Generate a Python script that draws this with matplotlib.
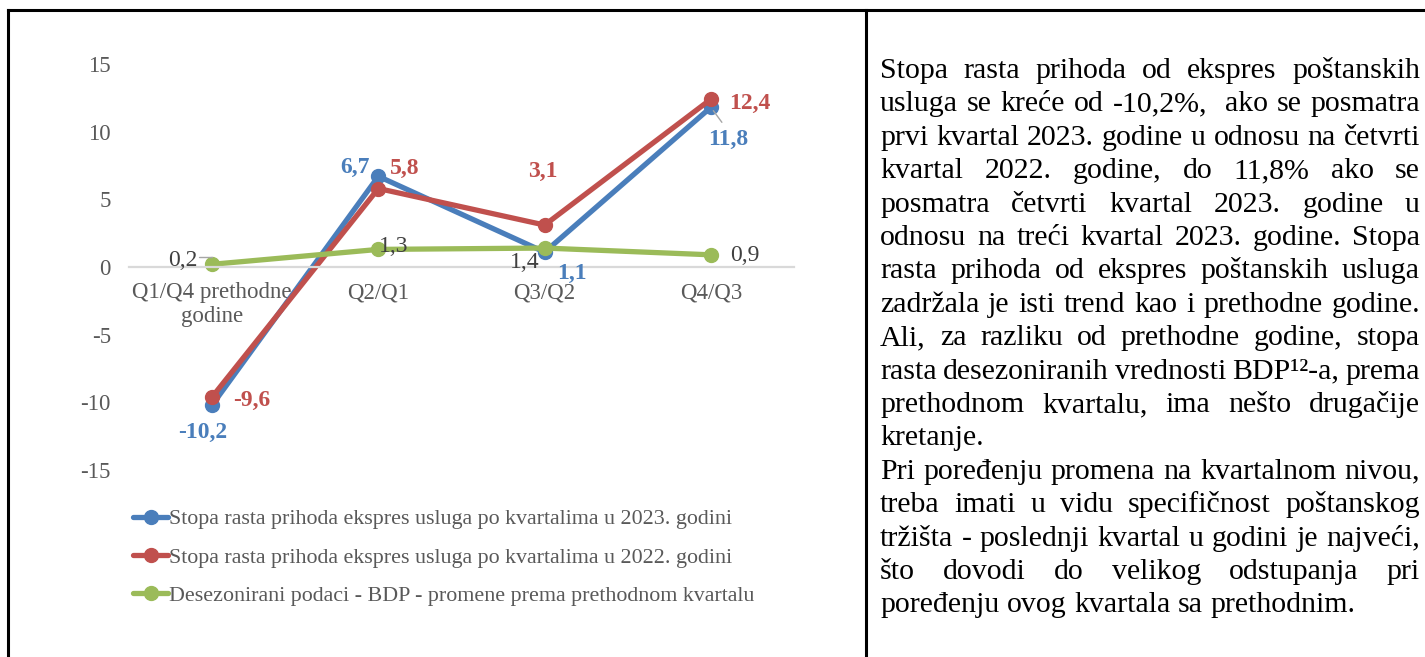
import matplotlib
matplotlib.use("Agg")
import matplotlib.pyplot as plt
from matplotlib.lines import Line2D

plt.rcParams['font.family'] = ['Liberation Serif', 'DejaVu Serif']

W, H = 1425, 657

# ==========================================
# podaci sa grafikona
# ==========================================
categories = ["Q1/Q4 prethodne\ngodine", "Q2/Q1", "Q3/Q2", "Q4/Q3"]
rast_2023 = [-10.2, 6.7, 1.1, 11.8]
rast_2022 = [-9.6, 5.8, 3.1, 12.4]
bdp = [0.2, 1.3, 1.4, 0.9]
y_ticks = [-15, -10, -5, 0, 5, 10, 15]

legend_labels = [
    "Stopa rasta prihoda ekspres usluga po kvartalima u 2023. godini",
    "Stopa rasta prihoda ekspres usluga po kvartalima u 2022. godini",
    "Desezonirani podaci - BDP - promene prema prethodnom kvartalu",
]

text_lines = [
    "Stopa rasta prihoda od ekspres poštanskih",
    "usluga se kreće od -10,2%,  ako se posmatra",
    "prvi kvartal 2023. godine u odnosu na četvrti",
    "kvartal 2022. godine, do 11,8% ako se",
    "posmatra četvrti kvartal 2023. godine u",
    "odnosu na treći kvartal 2023. godine. Stopa",
    "rasta prihoda od ekspres poštanskih usluga",
    "zadržala je isti trend kao i prethodne godine.",
    "Ali, za razliku od prethodne godine, stopa",
    "rasta desezoniranih vrednosti BDP¹²-a, prema",
    "prethodnom kvartalu, ima nešto drugačije",
    "kretanje.",
    "Pri poređenju promena na kvartalnom nivou,",
    "treba imati u vidu specifičnost poštanskog",
    "tržišta - poslednji kvartal u godini je najveći,",
    "što dovodi do velikog odstupanja pri",
    "poređenju ovog kvartala sa prethodnim.",
]
last_lines = {11, 16}  # kraj pasusa - bez poravnanja

BLUE = "#4A7EBB"
RED = "#C0504D"
GREEN = "#9BBB59"
GRAY = "#595959"

fig = plt.figure(figsize=(W / 100, H / 100), dpi=100)

# okvir tabele
for (x0, y0, x1, y1) in [(8, 10, W, 10), (8, 10, 8, H), (866, 10, 866, H)]:
    fig.add_artist(Line2D([x0 / W, x1 / W], [1 - y0 / H, 1 - y1 / H],
                          color="black", lw=2.2, transform=fig.transFigure))

ax = fig.add_axes([129 / W, 1 - 470 / H, (794 - 129) / W, (470 - 64) / H])
x = list(range(len(categories)))

ax.plot(x, rast_2023, color=BLUE, lw=3.8, marker="o", ms=10, label=legend_labels[0],
        solid_capstyle="round")
ax.plot(x, rast_2022, color=RED, lw=3.8, marker="o", ms=10, label=legend_labels[1],
        solid_capstyle="round")
ax.plot(x, bdp, color=GREEN, lw=3.8, marker="o", ms=10, label=legend_labels[2],
        solid_capstyle="round")

ax.set_xlim(-0.5, 3.5)
ax.set_ylim(-15, 15)
ax.set_yticks(y_ticks)
ax.set_yticklabels([str(t) for t in y_ticks])
ax.set_xticks(x)
ax.set_xticklabels(categories)
ax.tick_params(axis="both", length=0, labelsize=16.5, labelcolor=GRAY)
ax.tick_params(axis="y", pad=13)
ax.tick_params(axis="x", pad=11)
for s in ["left", "right", "top"]:
    ax.spines[s].set_visible(False)
ax.spines["bottom"].set_position(("data", 0))
ax.spines["bottom"].set_color("#D9D9D9")
ax.spines["bottom"].set_linewidth(1.6)
ax.set_zorder(1)

# oznake vrednosti (pomeraj u pikselima, y nadole)
off_2023 = [(-9, 27), (-23, -9), (27, 21), (17, 32)]
off_2022 = [(40, 4), (26, -20), (-2, -54), (39, 4)]
off_bdp = [(-29, -4), (15, -3), (-20, 14), (34, 1)]

def fmt(v):
    return f"{v:.1f}".replace(".", ",")

for vals, offs, col, wt in [(rast_2023, off_2023, BLUE, "bold"),
                            (rast_2022, off_2022, RED, "bold"),
                            (bdp, off_bdp, "#404040", "normal")]:
    for i, v in enumerate(vals):
        dx, dy = offs[i]
        ax.annotate(fmt(v), (x[i], v), xytext=(dx, -dy), textcoords="offset pixels",
                    ha="center", va="center", fontsize=17, color=col, fontweight=wt)

# kratke linije vodilje
ax.annotate("", (x[3], rast_2023[3]), xytext=(11, -15), textcoords="offset pixels",
            arrowprops=dict(arrowstyle="-", color="#A6A6A6", lw=1, shrinkA=0, shrinkB=3))
ax.annotate("", (x[0], bdp[0]), xytext=(-13, 7), textcoords="offset pixels",
            arrowprops=dict(arrowstyle="-", color="#A6A6A6", lw=1, shrinkA=0, shrinkB=5,
                            connectionstyle="angle,angleA=0,angleB=90,rad=0"))

h, l = ax.get_legend_handles_labels()
fig.legend(h, l, loc="upper left", bbox_to_anchor=(133 / W, 1 - 509 / H),
           frameon=False, fontsize=15.8, labelcolor=GRAY, handlelength=1.6,
           handletextpad=0.05, borderpad=0, borderaxespad=0, labelspacing=0.82)

# tekst desno, obostrano poravnat
FS = 21.5
X0, X1 = 880, 1420
BASE0, STEP = 78, 33.4

renderer = fig.canvas.get_renderer()

def width(s):
    if not s:
        return 0.0
    t = fig.text(0, 0, s, fontsize=FS)
    w = t.get_window_extent(renderer).width
    t.remove()
    return w

space_w = width("a a") - width("aa")

for k, line in enumerate(text_lines):
    words = line.split(" ")
    ws = [width(w) for w in words]
    if k in last_lines or len(words) == 1:
        gap = space_w
    else:
        gap = (X1 - X0 - sum(ws)) / (len(words) - 1)
    xp = X0
    yb = BASE0 + STEP * k
    for w, ww in zip(words, ws):
        if w:
            fig.text(xp / W, 1 - yb / H, w, fontsize=FS, va="baseline", ha="left",
                     color="black")
        xp += ww + gap

fig.savefig("out.png", dpi=100)
